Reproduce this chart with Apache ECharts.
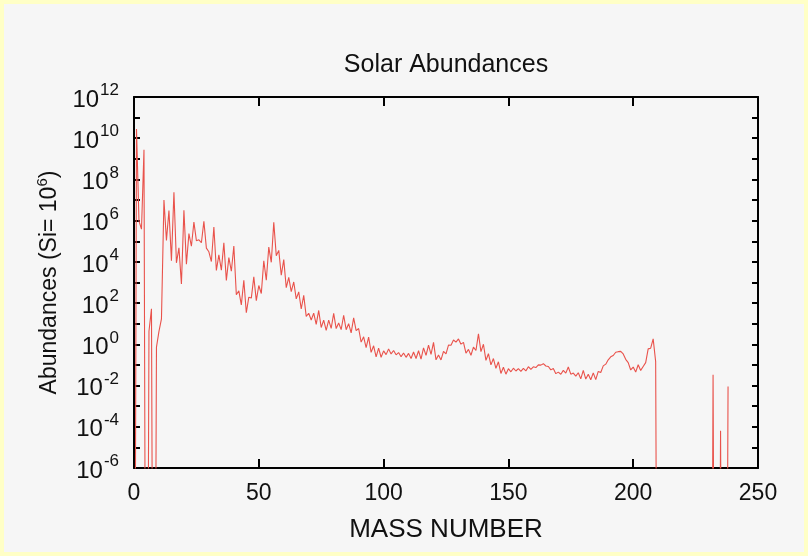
<!DOCTYPE html>
<html>
<head>
<meta charset="utf-8">
<script src="https://cdn.jsdelivr.net/npm/echarts@6/dist/echarts.min.js"></script>
<style>
  html, body { margin: 0; padding: 0; background: #ffffc6; }
  #wrap { position: relative; width: 808px; height: 556px; }
  #chart { position: absolute; left: 0; top: 0; width: 808px; height: 556px; }
  #frame { position: absolute; left: 0; top: 0; width: 800px; height: 548px; border: 4px solid #ffffc6; pointer-events: none; }
</style>
</head>
<body>
<div id="wrap"><div id="chart"></div><div id="frame"></div></div>
<script>
// Solar abundances (Si = 1e6), summed by mass number; index = mass number 0..238
const abundance = [
  0, 2.79e10, 9.49e5, 3.86e5, 2.72e9, 0, 4.3, 52.8, 0, 0.73,            // 0-9
  4.22, 17.0, 9.99e6, 1.11e5, 3.12e6, 1.15e4, 2.37e7, 9.04e3, 4.77e4, 843, // 10-19
  3.2e6, 7.77e3, 2.34e5, 5.74e4, 8.48e5, 1.07e5, 1.18e5, 8.49e4, 9.22e5, 4.67e4, // 20-29
  3.1e4, 1.04e4, 4.89e5, 3.86e3, 2.17e4, 3.97e3, 8.5e4, 1.27e3, 1.6e4, 3.52e3, // 30-39
  5.92e4, 254, 395, 82.5, 1277, 34.2, 194, 175, 1885, 132,              // 40-49
  718, 292, 1.13e4, 1283, 5.25e4, 9550, 8.25e5, 1.98e4, 3.62e4, 2250,   // 50-59
  1.29e4, 557, 1770, 361, 1062, 161, 352, 51.7, 237, 22.7,              // 60-69
  32.2, 15.1, 32.6, 9.3, 44.0, 6.56, 14.9, 4.7, 14.85, 5.98,            // 70-79
  31.9, 5.82, 10.9, 5.2, 25.8, 5.12, 10.1, 3.61, 19.4, 4.64,            // 80-89
  5.87, 1.28, 2.33, 0.698, 2.22, 0.406, 0.848, 0.244, 0.65, 0.236,      // 90-99
  0.48, 0.317, 0.602, 0.344, 0.503, 0.31, 0.40, 0.252, 0.382, 0.234,    // 100-109
  0.364, 0.206, 0.426, 0.205, 0.488, 0.19, 0.676, 0.293, 0.925, 0.328,  // 110-119
  1.25, 0.177, 0.302, 0.176, 0.459, 0.343, 0.916, 0.9, 1.627, 1.28,     // 120-129
  1.835, 1.02, 1.25, 0.372, 0.568, 0.296, 0.728, 0.504, 3.22, 0.446,    // 130-139
  1.005, 0.167, 0.351, 0.101, 0.205, 0.0687, 0.142, 0.0387, 0.0769, 0.0357, // 140-149
  0.0658, 0.0465, 0.0696, 0.0508, 0.0658, 0.0489, 0.0678, 0.0516, 0.0824, 0.0603, // 150-159
  0.0813, 0.0745, 0.101, 0.098, 0.115, 0.0889, 0.0843, 0.0576, 0.0676, 0.0378, // 160-169
  0.045, 0.0355, 0.0543, 0.040, 0.0792, 0.0357, 0.0405, 0.0286, 0.042, 0.021, // 170-179
  0.0542, 0.0207, 0.035, 0.019, 0.041, 0.0193, 0.0487, 0.0432, 0.0898, 0.109, // 180-189
  0.178, 0.247, 0.288, 0.414, 0.441, 0.453, 0.34, 0.187, 0.13, 0.057,   // 190-199
  0.0785, 0.0449, 0.1017, 0.0543, 0.084, 0.13, 0.602, 0.65, 1.84, 0.144, // 200-209
  0, 0, 0, 0, 0, 0, 0, 0, 0, 0,                                          // 210-219
  0, 0, 0, 0, 0, 0, 0, 0, 0, 0,                                          // 220-229
  0, 0, 0.0335, 0, 0, 6.5e-5, 0, 0, 0.0089                               // 230-238
];
const massNumber = abundance.map((_, i) => i);

const xTicks = [0, 50, 100, 150, 200, 250];
const yLabelExps = [-6, -4, -2, 0, 2, 4, 6, 8, 10, 12];
const yMinExp = -6, yMaxExp = 12;

const FONT = "'Liberation Sans', Arial, sans-serif";
const ZERO_FLOOR = 1e-30; // zero abundance drawn off the bottom of the log axis

const seriesData = massNumber.map((a, i) => [a, abundance[i] > 0 ? abundance[i] : ZERO_FLOOR]);

const chart = echarts.init(document.getElementById('chart'), null, { renderer: 'canvas' });

const supRich = {
  b: { fontSize: 24, fontFamily: FONT, color: '#111', verticalAlign: 'bottom' },
  s: { fontSize: 17, fontFamily: FONT, color: '#111', verticalAlign: 'bottom', padding: [0, 0, 13, 1] }
};

const option = {
  backgroundColor: '#f6f6f6',
  animation: false,
  title: {
    text: 'Solar Abundances',
    left: 441,
    top: 48,
    textAlign: 'center',
    textStyle: { fontFamily: FONT, fontSize: 25, fontWeight: 'normal', color: '#111' }
  },
  grid: { left: 134, right: 50, top: 97, bottom: 88, containLabel: false },
  xAxis: [
    {
      type: 'value', min: xTicks[0], max: xTicks[xTicks.length - 1], interval: 50,
      position: 'bottom',
      axisLine: { show: true, onZero: false, lineStyle: { color: '#000', width: 2 } },
      axisTick: { show: true, inside: true, length: 9, lineStyle: { color: '#000', width: 2 } },
      axisLabel: { fontFamily: FONT, fontSize: 23, color: '#111', margin: 14 },
      splitLine: { show: false },
      name: 'MASS NUMBER', nameLocation: 'middle', nameGap: 49,
      nameTextStyle: { fontFamily: FONT, fontSize: 26, color: '#111' }
    },
    {
      type: 'value', min: xTicks[0], max: xTicks[xTicks.length - 1], interval: 50,
      position: 'top',
      axisLine: { show: true, onZero: false, lineStyle: { color: '#000', width: 2 } },
      axisTick: { show: true, inside: true, length: 9, lineStyle: { color: '#000', width: 2 } },
      axisLabel: { show: false },
      splitLine: { show: false }
    }
  ],
  yAxis: [
    {
      type: 'log', logBase: 10, min: Math.pow(10, yMinExp), max: Math.pow(10, yMaxExp), interval: 1,
      position: 'left',
      axisLine: { show: true, onZero: false, lineStyle: { color: '#000', width: 2 } },
      axisTick: { show: true, inside: true, length: 6, lineStyle: { color: '#000', width: 2 } },
      axisLabel: {
        margin: 15, hideOverlap: false, showMinLabel: true, showMaxLabel: true,
        formatter: function (v) {
          const e = Math.round(Math.log10(v));
          if (yLabelExps.indexOf(e) < 0) return '';
          return '{b|10}{s|' + e + '}';
        },
        rich: supRich
      },
      splitLine: { show: false },
      name: '{n|Abundances (Si= 10}{s|6}{n|)}', nameLocation: 'middle', nameRotate: 90, nameGap: 68,
      nameTextStyle: {
        rich: {
          n: { fontSize: 23, fontFamily: FONT, color: '#111', verticalAlign: 'bottom' },
          s: { fontSize: 15, fontFamily: FONT, color: '#111', verticalAlign: 'bottom', padding: [0, 0, 11, 0] }
        }
      }
    },
    {
      type: 'log', logBase: 10, min: Math.pow(10, yMinExp), max: Math.pow(10, yMaxExp), interval: 1,
      position: 'right',
      axisLine: { show: true, onZero: false, lineStyle: { color: '#000', width: 2 } },
      axisTick: { show: true, inside: true, length: 6, lineStyle: { color: '#000', width: 2 } },
      axisLabel: { show: false },
      splitLine: { show: false }
    }
  ],
  series: [
    {
      type: 'line',
      data: seriesData,
      xAxisIndex: 0, yAxisIndex: 0,
      showSymbol: false, symbol: 'none',
      clip: true,
      lineStyle: { color: '#e9524b', width: 1.1 }
    }
  ]
};
chart.setOption(option);
</script>
</body>
</html>
